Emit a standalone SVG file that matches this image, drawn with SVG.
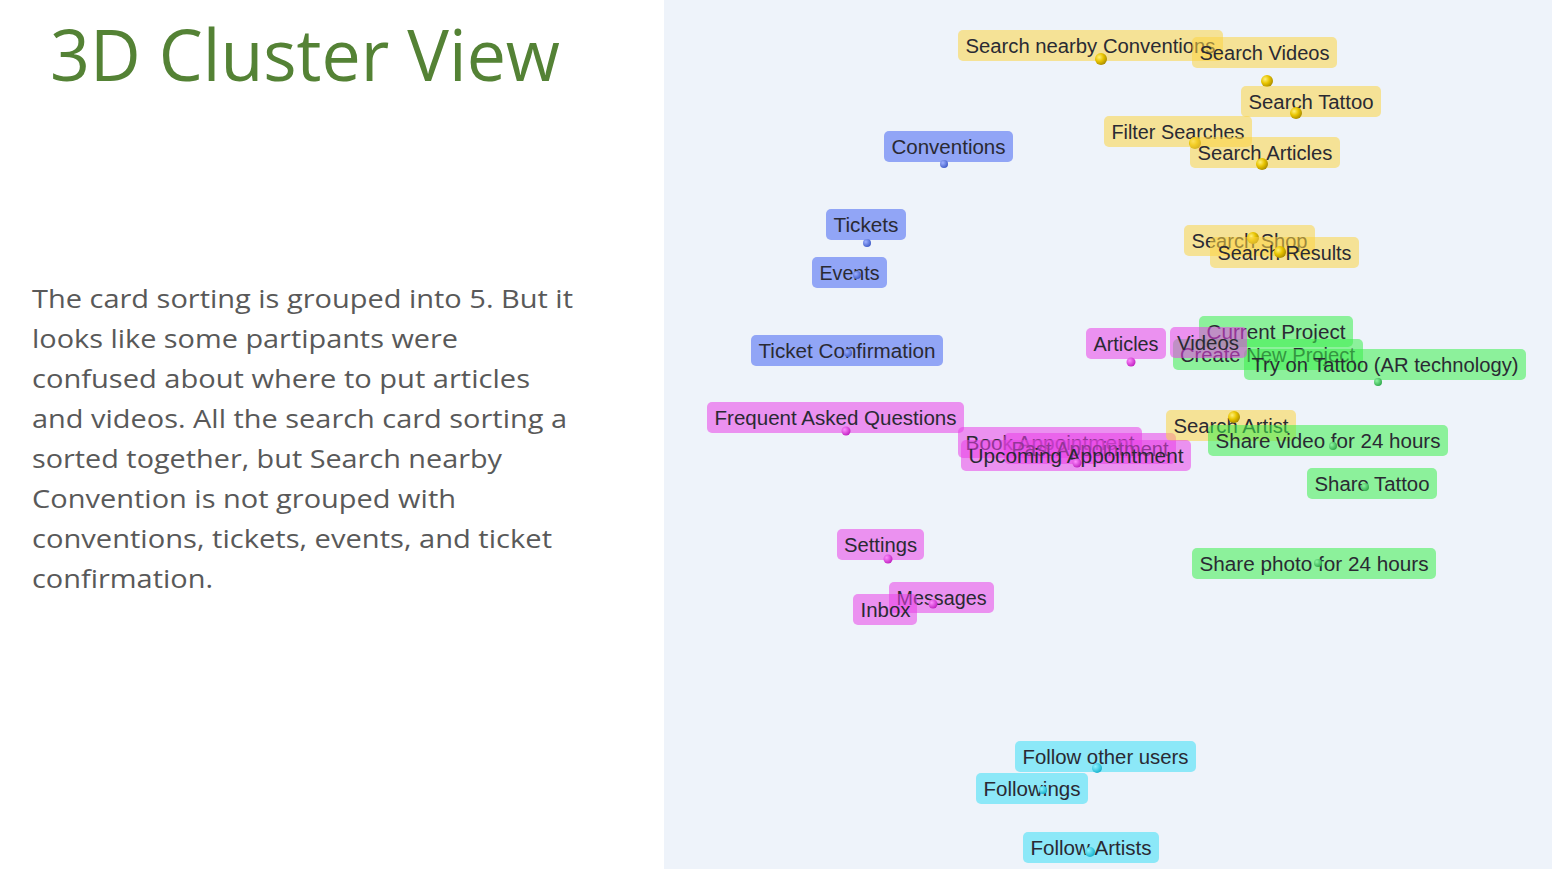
<svg xmlns="http://www.w3.org/2000/svg" width="1552" height="869" viewBox="0 0 1552 869">
<defs>
<style>
.title{font-family:"Open Sans","Liberation Sans",sans-serif;font-size:72px;fill:#548235}
.body{font-family:"Open Sans","Liberation Sans",sans-serif;font-size:26px;fill:#595959}
.lbl{font-family:"Liberation Sans","DejaVu Sans",sans-serif;font-size:19.5px;fill:#2a2a33}
.y rect{fill:#FCD444;fill-opacity:0.55}
.b rect{fill:#4565F3;fill-opacity:0.55}
.p rect{fill:#EA3FE8;fill-opacity:0.55}
.g rect{fill:#3CEE4D;fill-opacity:0.55}
.c rect{fill:#3CDFF6;fill-opacity:0.55}
.y circle{fill:url(#gy)}
.b circle{fill:url(#gb)}
.p circle{fill:url(#gp)}
.g circle{fill:url(#gg)}
.c circle{fill:url(#gc)}
</style>
<radialGradient id="gy" cx="0.35" cy="0.35" r="0.7"><stop offset="0" stop-color="#FFF07A"/><stop offset="0.5" stop-color="#E8C400"/><stop offset="1" stop-color="#A88A00"/></radialGradient>
<radialGradient id="gb" cx="0.35" cy="0.35" r="0.7"><stop offset="0" stop-color="#9DB0FF"/><stop offset="1" stop-color="#3F5BC8"/></radialGradient>
<radialGradient id="gp" cx="0.35" cy="0.35" r="0.7"><stop offset="0" stop-color="#FF8CFF"/><stop offset="1" stop-color="#C020C0"/></radialGradient>
<radialGradient id="gg" cx="0.35" cy="0.35" r="0.7"><stop offset="0" stop-color="#8CF5A0"/><stop offset="1" stop-color="#2FA84A"/></radialGradient>
<radialGradient id="gc" cx="0.35" cy="0.35" r="0.7"><stop offset="0" stop-color="#8CF4FF"/><stop offset="1" stop-color="#14B0CC"/></radialGradient>
</defs>
<rect x="0" y="0" width="1552" height="869" fill="#FFFFFF"/>
<rect x="664" y="0" width="888" height="869" fill="#EEF3FA"/>
<g id="title"><text class="title" x="50" y="81" textLength="510" lengthAdjust="spacingAndGlyphs">3D Cluster View</text></g>
<g id="description">
<text class="body" x="32" y="308" textLength="541" lengthAdjust="spacingAndGlyphs">The card sorting is grouped into 5. But it</text>
<text class="body" x="32" y="348" textLength="426" lengthAdjust="spacingAndGlyphs">looks like some partipants were</text>
<text class="body" x="32" y="388" textLength="498" lengthAdjust="spacingAndGlyphs">confused about where to put articles</text>
<text class="body" x="32" y="428" textLength="535" lengthAdjust="spacingAndGlyphs">and videos. All the search card sorting a</text>
<text class="body" x="32" y="468" textLength="470" lengthAdjust="spacingAndGlyphs">sorted together, but Search nearby</text>
<text class="body" x="32" y="508" textLength="424" lengthAdjust="spacingAndGlyphs">Convention is not grouped with</text>
<text class="body" x="32" y="548" textLength="520" lengthAdjust="spacingAndGlyphs">conventions, tickets, events, and ticket</text>
<text class="body" x="32" y="588" textLength="181" lengthAdjust="spacingAndGlyphs">confirmation.</text>
</g>
<g id="connectors"/>
<!-- Yellow cluster -->
<g id="n-search-nearby-conventions" class="y"><rect x="958" y="30" width="265" height="31" rx="5"/><text class="lbl" x="965.5" y="52.5" textLength="250" lengthAdjust="spacingAndGlyphs">Search nearby Conventions</text><circle cx="1101" cy="59" r="6"/></g>
<g id="n-search-videos" class="y"><rect x="1192" y="37" width="145" height="31" rx="5"/><text class="lbl" x="1199.5" y="59.5" textLength="130" lengthAdjust="spacingAndGlyphs">Search Videos</text><circle cx="1267" cy="81" r="6"/></g>
<g id="n-search-tattoo" class="y"><rect x="1241" y="86" width="140" height="31" rx="5"/><text class="lbl" x="1248.5" y="108.5" textLength="125" lengthAdjust="spacingAndGlyphs">Search Tattoo</text><circle cx="1296" cy="113" r="6"/></g>
<g id="n-filter-searches" class="y"><rect x="1104" y="116" width="148" height="31" rx="5"/><text class="lbl" x="1111.5" y="138.5" textLength="133" lengthAdjust="spacingAndGlyphs">Filter Searches</text><circle cx="1195" cy="143" r="6"/></g>
<g id="n-search-articles" class="y"><rect x="1190" y="137" width="150" height="31" rx="5"/><text class="lbl" x="1197.5" y="159.5" textLength="135" lengthAdjust="spacingAndGlyphs">Search Articles</text><circle cx="1262" cy="164" r="6"/></g>
<g id="n-search-shop" class="y"><rect x="1184" y="225" width="131" height="31" rx="5"/><text class="lbl" x="1191.5" y="247.5" textLength="116" lengthAdjust="spacingAndGlyphs">Search Shop</text><circle cx="1253" cy="238" r="6"/></g>
<g id="n-search-results" class="y"><rect x="1210" y="237" width="149" height="31" rx="5"/><text class="lbl" x="1217.5" y="259.5" textLength="134" lengthAdjust="spacingAndGlyphs">Search Results</text><circle cx="1280" cy="252" r="6"/></g>
<!-- Blue cluster -->
<g id="n-conventions" class="b"><rect x="884" y="131" width="129" height="31" rx="5"/><text class="lbl" x="891.5" y="153.5" textLength="114" lengthAdjust="spacingAndGlyphs">Conventions</text><circle cx="944" cy="164" r="4"/></g>
<g id="n-tickets" class="b"><rect x="826" y="209" width="80" height="31" rx="5"/><text class="lbl" x="833.5" y="231.5" textLength="65" lengthAdjust="spacingAndGlyphs">Tickets</text><circle cx="867" cy="243" r="4"/></g>
<g id="n-events" class="b"><rect x="812" y="257" width="75" height="31" rx="5"/><text class="lbl" x="819.5" y="279.5" textLength="60" lengthAdjust="spacingAndGlyphs">Events</text><circle cx="857" cy="275" r="4"/></g>
<g id="n-ticket-confirmation" class="b"><rect x="751" y="335" width="192" height="31" rx="5"/><text class="lbl" x="758.5" y="357.5" textLength="177" lengthAdjust="spacingAndGlyphs">Ticket Confirmation</text><circle cx="848" cy="353" r="4"/></g>
<!-- Green / pink middle -->
<g id="n-current-project" class="g"><rect x="1199" y="316" width="154" height="31" rx="5"/><text class="lbl" x="1206.5" y="338.5" textLength="139" lengthAdjust="spacingAndGlyphs">Current Project</text></g>
<g id="n-create-new-project" class="g"><rect x="1173" y="339" width="190" height="31" rx="5"/><text class="lbl" x="1180" y="361.5" textLength="175" lengthAdjust="spacingAndGlyphs">Create New Project</text></g>
<g id="n-try-on-tattoo" class="g"><rect x="1244" y="349" width="282" height="31" rx="5"/><text class="lbl" x="1251.5" y="371.5" textLength="267" lengthAdjust="spacingAndGlyphs">Try on Tattoo (AR technology)</text><circle cx="1378" cy="382" r="4"/></g>
<g id="n-articles" class="p"><rect x="1086" y="328" width="80" height="31" rx="5"/><text class="lbl" x="1093.5" y="350.5" textLength="65" lengthAdjust="spacingAndGlyphs">Articles</text><circle cx="1131" cy="362" r="4.5"/></g>
<g id="n-videos" class="p"><rect x="1170" y="327" width="77" height="31" rx="5"/><text class="lbl" x="1177" y="349.5" textLength="62" lengthAdjust="spacingAndGlyphs">Videos</text></g>
<g id="n-faq" class="p"><rect x="707" y="402" width="257" height="31" rx="5"/><text class="lbl" x="714.5" y="424.5" textLength="242" lengthAdjust="spacingAndGlyphs">Frequent Asked Questions</text><circle cx="846" cy="431" r="4.5"/></g>
<g id="n-book-appointment" class="p"><rect x="958" y="427" width="184" height="31" rx="5"/><text class="lbl" x="965.5" y="449.5" textLength="169" lengthAdjust="spacingAndGlyphs">Book Appointment</text></g>
<g id="n-past-appointment" class="p"><rect x="1004" y="433" width="172" height="31" rx="5"/><text class="lbl" x="1011.5" y="455.5" textLength="157" lengthAdjust="spacingAndGlyphs">Past Appointment</text></g>
<g id="n-search-artist" class="y"><rect x="1166" y="410" width="130" height="31" rx="5"/><text class="lbl" x="1173.5" y="432.5" textLength="115" lengthAdjust="spacingAndGlyphs">Search Artist</text><circle cx="1234" cy="417" r="6"/></g>
<g id="n-upcoming-appointment" class="p"><rect x="961" y="440" width="230" height="31" rx="5"/><text class="lbl" x="968.5" y="462.5" textLength="215" lengthAdjust="spacingAndGlyphs">Upcoming Appointment</text><circle cx="1077" cy="463" r="4.5"/></g>
<g id="n-share-video" class="g"><rect x="1208" y="425" width="240" height="31" rx="5"/><text class="lbl" x="1215.5" y="447.5" textLength="225" lengthAdjust="spacingAndGlyphs">Share video for 24 hours</text><circle cx="1333" cy="446" r="4"/></g>
<g id="n-share-tattoo" class="g"><rect x="1307" y="468" width="130" height="31" rx="5"/><text class="lbl" x="1314.5" y="490.5" textLength="115" lengthAdjust="spacingAndGlyphs">Share Tattoo</text><circle cx="1365" cy="487" r="4"/></g>
<g id="n-share-photo" class="g"><rect x="1192" y="548" width="244" height="31" rx="5"/><text class="lbl" x="1199.5" y="570.5" textLength="229" lengthAdjust="spacingAndGlyphs">Share photo for 24 hours</text><circle cx="1318" cy="563" r="4"/></g>
<!-- Pink lower -->
<g id="n-settings" class="p"><rect x="837" y="529" width="87" height="31" rx="5"/><text class="lbl" x="844" y="551.5" textLength="73" lengthAdjust="spacingAndGlyphs">Settings</text><circle cx="888" cy="559" r="4.5"/></g>
<g id="n-messages" class="p"><rect x="889" y="582" width="105" height="31" rx="5"/><text class="lbl" x="896.5" y="604.5" textLength="90" lengthAdjust="spacingAndGlyphs">Messages</text><circle cx="933" cy="604" r="4.5"/></g>
<g id="n-inbox" class="p"><rect x="853" y="594" width="64" height="31" rx="5"/><text class="lbl" x="860.5" y="616.5" textLength="50" lengthAdjust="spacingAndGlyphs">Inbox</text></g>
<!-- Cyan cluster -->
<g id="n-follow-other-users" class="c"><rect x="1015" y="741" width="181" height="31" rx="5"/><text class="lbl" x="1022.5" y="763.5" textLength="166" lengthAdjust="spacingAndGlyphs">Follow other users</text><circle cx="1097" cy="768" r="5"/></g>
<g id="n-followings" class="c"><rect x="976" y="773" width="112" height="31" rx="5"/><text class="lbl" x="983.5" y="795.5" textLength="97" lengthAdjust="spacingAndGlyphs">Followings</text><circle cx="1043" cy="790" r="4"/></g>
<g id="n-follow-artists" class="c"><rect x="1023" y="832" width="136" height="31" rx="5"/><text class="lbl" x="1030.5" y="854.5" textLength="121" lengthAdjust="spacingAndGlyphs">Follow Artists</text><circle cx="1090" cy="852" r="5"/></g>
</svg>
